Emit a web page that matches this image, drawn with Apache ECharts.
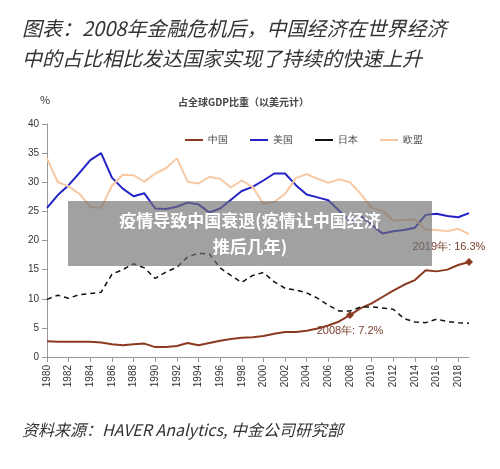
<!DOCTYPE html><html><head><meta charset="utf-8"><script src="https://cdn.jsdelivr.net/npm/echarts@6/dist/echarts.min.js"></script></head><body style="margin:0;background:#fff"><div id="c" style="width:500px;height:469px"></div><script>
const years=[];for(let y=1980;y<=2019;y++)years.push(String(y));
const china=[2.7,2.6,2.6,2.6,2.6,2.5,2.2,2.0,2.2,2.3,1.7,1.7,1.9,2.4,2.0,2.4,2.8,3.1,3.3,3.4,3.6,4.0,4.3,4.3,4.5,4.9,5.4,6.1,7.2,8.4,9.2,10.3,11.4,12.4,13.2,14.9,14.7,15.0,15.8,16.3];
const usa=[25.6,27.8,29.5,31.6,33.8,35.0,30.8,28.9,27.6,28.1,25.5,25.4,25.8,26.5,26.2,24.8,25.5,27.0,28.5,29.2,30.3,31.5,31.5,29.5,27.9,27.4,26.9,25.1,23.3,24.2,22.7,21.2,21.6,21.8,22.2,24.4,24.6,24.2,24.0,24.7];
const japan=[9.9,10.6,10.1,10.7,10.9,11.1,14.2,15.0,16.0,15.3,13.5,14.6,15.4,17.2,17.8,17.7,15.3,14.0,12.8,14.0,14.5,12.9,11.8,11.5,11.0,10.1,8.9,7.9,7.9,8.6,8.6,8.4,8.2,6.6,6.0,5.9,6.5,6.1,5.9,5.8];
const eu=[34.1,30.0,29.3,28.0,25.8,25.6,29.4,31.3,31.2,30.1,31.5,32.4,34.1,30.1,29.8,30.9,30.6,29.1,30.3,29.2,26.3,26.6,28.0,30.7,31.4,30.6,29.9,30.5,30.0,28.0,25.6,25.1,23.4,23.5,23.6,21.9,21.8,21.6,22.0,21.1];
const c=echarts.init(document.getElementById('c'));
const F='"Noto Sans CJK SC"';
c.setOption({animation:false,
graphic:[
{type:'text',left:22,top:18,style:{text:'图表：2008年金融危机后，中国经济在世界经济',font:'italic 20px '+F,fill:'#333'}},
{type:'text',left:22,top:48,style:{text:'中的占比相比发达国家实现了持续的快速上升',font:'italic 20px '+F,fill:'#333'}},
{type:'text',left:40,top:94,style:{text:'%',font:'11px '+F,fill:'#333'}},
{type:'text',left:178,top:97,style:{text:'占全球GDP比重（以美元计）',font:'bold 10px '+F,fill:'#444'}},
{type:'text',left:22,top:422,style:{text:'资料来源：HAVER Analytics, 中金公司研究部',font:'italic 16px '+F,fill:'#333'}},
{type:'rect',shape:{x:68,y:201,width:364,height:65},style:{fill:'rgba(110,110,110,0.65)'},z:100},
{type:'text',z:101,style:{x:250,y:208,text:'疫情导致中国衰退(疫情让中国经济\n推后几年)',align:'center',verticalAlign:'top',font:'bold 17px '+F,fill:'#fff',lineHeight:26}}
],
legend:{top:130,left:180,itemWidth:18,itemHeight:2,itemGap:22,textStyle:{fontSize:10,color:'#444'},icon:'rect',data:['中国','美国','日本','欧盟']},
grid:{left:47,right:31,top:124,bottom:112},
xAxis:{type:'category',data:years,boundaryGap:false,axisLine:{lineStyle:{color:'#999'}},axisTick:{interval:1,lineStyle:{color:'#999'}},axisLabel:{interval:1,rotate:90,fontSize:10,color:'#333'}},
yAxis:{type:'value',min:0,max:40,interval:5,splitLine:{show:false},axisLine:{show:true,lineStyle:{color:'#999'}},axisTick:{show:true},axisLabel:{fontSize:10,color:'#333'}},
series:[
{name:'中国',type:'line',data:china,symbol:'none',lineStyle:{width:2,color:'#8b3a22'},itemStyle:{color:'#8b3a22'},
 markPoint:{symbol:'diamond',symbolSize:8,itemStyle:{color:'#8b3a22'},data:[
 {coord:['2008',7.2],label:{show:true,formatter:'2008年: 7.2%',position:'bottom',distance:6,color:'#7a4030',fontSize:11}},
 {coord:['2019',16.3],label:{show:true,formatter:'2019年: 16.3%',position:'top',offset:[-20,0],distance:6,color:'#7a4030',fontSize:11}}]}},
{name:'美国',type:'line',data:usa,symbol:'none',lineStyle:{width:2,color:'#2323c8'},itemStyle:{color:'#2323c8'}},
{name:'日本',type:'line',data:japan,symbol:'none',lineStyle:{width:1.5,color:'#111',type:[5,4]},itemStyle:{color:'#111'}},
{name:'欧盟',type:'line',data:eu,symbol:'none',lineStyle:{width:2,color:'#f7c8a2'},itemStyle:{color:'#f7c8a2'}}
]});
</script></body></html>
